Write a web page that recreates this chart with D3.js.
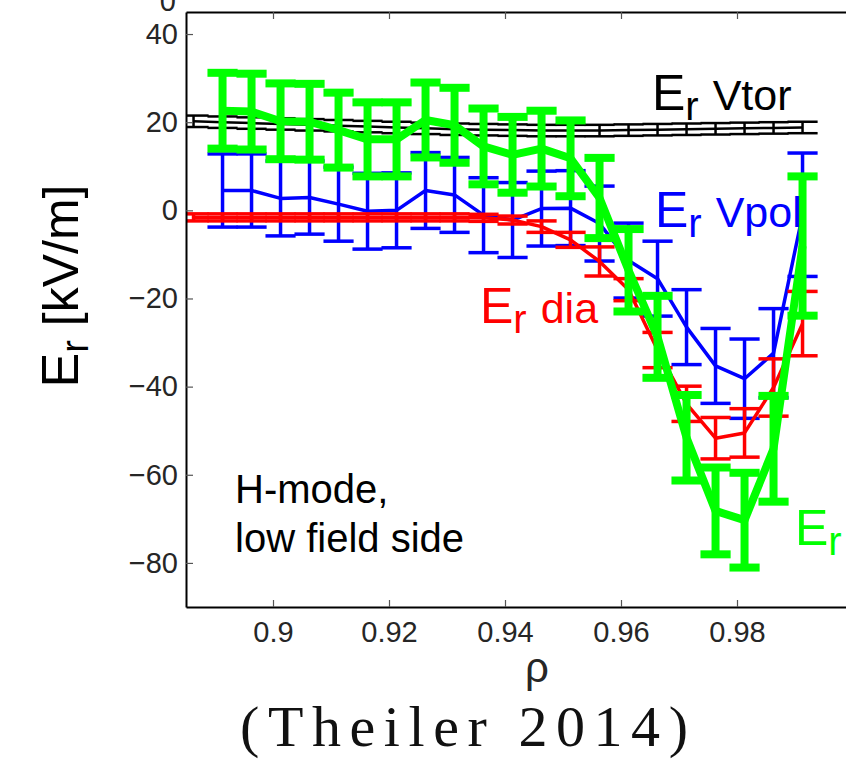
<!DOCTYPE html>
<html><head><meta charset="utf-8">
<script src="https://cdn.jsdelivr.net/npm/d3@7/dist/d3.min.js"></script>
<style>body{margin:0;background:#fff}svg{display:block}</style>
</head><body>
<svg id="c" width="846" height="770"></svg>
<script>
// ---- data ----
const rhoFine = [0.8863,0.8913,0.8963,0.9013,0.9063,0.9113,0.9163,0.9213,0.9263,0.9313,0.9363,0.9413,0.9463,0.9513,0.9563,0.9613,0.9663,0.9713,0.9763,0.9813,0.9863,0.9913];
const erVtor    = [20.2,20.0,19.8,19.6,19.4,19.2,19.0,18.8,18.6,18.4,18.3,18.2,18.1,18.1,18.1,18.2,18.3,18.4,18.5,18.6,18.7,18.8];
const erVtorErr = [1.3,1.3,1.3,1.3,1.3,1.3,1.3,1.3,1.3,1.3,1.3,1.3,1.3,1.3,1.3,1.3,1.3,1.3,1.3,1.3,1.3,1.3];
const erDia     = [-1.6,-1.6,-1.6,-1.6,-1.6,-1.6,-1.6,-1.6,-1.6,-1.6,-1.7,-2.2,-3.7,-6.7,-11.6,-18.0,-31.7,-43.9,-51.7,-50.5,-40.2,-25.7];
const erDiaErr  = [0.8,0.8,0.8,0.8,0.8,0.8,0.8,0.8,0.8,0.8,0.8,0.9,1.3,1.7,3.3,2.5,4.0,4.0,4.7,5.5,6.5,7.3];

const rhoMeas   = [0.8913,0.8963,0.9013,0.9063,0.9113,0.9163,0.9213,0.9263,0.9313,0.9363,0.9413,0.9463,0.9513,0.9563,0.9613,0.9663,0.9713,0.9763,0.9813,0.9863,0.9913];
const erVpol    = [4.5,4.5,2.7,2.9,1.4,-0.2,0.0,4.5,3.5,-1.1,-2.2,0.4,0.5,-3.0,-11.4,-15.5,-26.5,-35.3,-38.2,-32.4,-1.0];
const erVpolErr = [8.3,8.3,8.5,8.3,8.4,8.6,8.5,8.6,8.5,8.5,8.5,8.5,8.5,8.5,8.5,8.5,8.5,8.5,9.0,10.1,14.0];
const erTot     = [22.6,22.4,20.2,20.1,18.2,16.1,16.1,20.5,19.3,14.5,12.6,14.0,11.8,2.8,-13.6,-28.7,-51.6,-68.2,-70.3,-54.1,-8.1];
const erTotErr  = [8.6,8.6,8.6,8.6,8.5,8.4,8.4,8.5,8.5,8.6,8.6,8.6,8.6,9.1,9.35,9.3,9.7,9.85,10.75,12.0,15.8];

const xTicks = [0.9,0.92,0.94,0.96,0.98];
const yTicks = [40,20,0,-20,-40,-60,-80];

// ---- layout ----
const svg = d3.select("#c");
const L = 186, T = 12, B = 607, R = 853;
const x = d3.scaleLinear().domain([0.885, 1.0]).range([L, R]);
const y = d3.scaleLinear().domain([-90, 45]).range([B, T]);
const capHalf = 0.0026;
const sans = "'Liberation Sans', Arial, Helvetica, sans-serif";

svg.append("defs").append("clipPath").attr("id","clip")
  .append("rect").attr("x",L).attr("y",T).attr("width",R-L).attr("height",B-T);

const plot = svg.append("g").attr("clip-path","url(#clip)");

function series(xs, vs, es, color, lw, cw) {
  const g = plot.append("g");
  const line = d3.line().x((d,i)=>x(xs[i])).y(d=>y(d));
  vs.forEach((v,i)=>{
    const xc = x(xs[i]);
    g.append("line").attr("x1",xc).attr("x2",xc).attr("y1",y(v-es[i])).attr("y2",y(v+es[i]))
      .attr("stroke",color).attr("stroke-width",cw);
    [v-es[i], v+es[i]].forEach(c=>{
      g.append("line").attr("x1",x(xs[i]-capHalf)).attr("x2",x(xs[i]+capHalf))
        .attr("y1",y(c)).attr("y2",y(c)).attr("stroke",color).attr("stroke-width",cw);
    });
  });
  g.append("path").datum(vs).attr("d",line).attr("fill","none")
    .attr("stroke",color).attr("stroke-width",lw).attr("stroke-linejoin","round");
}

series(rhoFine, erVtor, erVtorErr, "#000000", 2.5, 2.5);
series(rhoMeas, erVpol, erVpolErr, "#0000ff", 3.5, 3.5);
series(rhoFine, erDia, erDiaErr, "#ff0000", 3.5, 3.5);
series(rhoMeas, erTot, erTotErr, "#00ff00", 8, 8);

// ---- axes ----
const axG = svg.append("g");
const yAxis = d3.axisLeft(y).tickValues(yTicks).tickSize(-7).tickSizeOuter(0).tickPadding(8);
const xAxis = d3.axisBottom(x).tickValues(xTicks).tickSize(-7).tickSizeOuter(0).tickPadding(14)
  .tickFormat(d3.format(".2~f"));
const gy = axG.append("g").attr("transform",`translate(${L},0)`).call(yAxis);
const gx = axG.append("g").attr("transform",`translate(0,${B})`).call(xAxis);
const gt = axG.append("g").attr("transform",`translate(0,${T})`)
  .call(d3.axisTop(x).tickValues(xTicks).tickSize(-7).tickSizeOuter(0).tickFormat(""));
[gx,gy,gt].forEach(g=>{
  g.select(".domain").attr("stroke","#000").attr("stroke-width",2);
  g.selectAll(".tick line").attr("stroke","#555").attr("stroke-width",1.2);
  g.selectAll(".tick text").attr("fill","#262626").style("font-family",sans).style("font-size","29px");
});
// label fragment clipped by the top edge, as in the reference
svg.append("text").attr("x",L-10).attr("y",T-1).attr("text-anchor","end")
  .style("font-family",sans).style("font-size","29px").attr("fill","#262626").text("0");

// ---- texts ----
function erLabel(xp, yp, color, suffix, fs) {
  const t = svg.append("text").attr("x",xp).attr("y",yp).attr("fill",color).style("font-family",sans);
  t.append("tspan").style("font-size","50px").text("E");
  t.append("tspan").style("font-size","40px").attr("dy",10).text("r");
  if (suffix) t.append("tspan").style("font-size",fs+"px").attr("dy",-10).attr("dx",14).text(suffix);
}
erLabel(652,110,"#000","Vtor",43);
erLabel(655,227,"#0000ff","Vpol",43);
erLabel(480,323,"#ff0000","dia",43);
erLabel(795,545,"#00ff00",null,43);

svg.append("text").attr("x",235).attr("y",503).style("font-family",sans).style("font-size","40px").text("H-mode,");
svg.append("text").attr("x",235).attr("y",552).style("font-family",sans).style("font-size","40px").text("low field side");

// y label
const yl = svg.append("text").attr("transform","translate(78,286) rotate(-90)").attr("text-anchor","middle")
  .style("font-family",sans).attr("fill","#000");
yl.append("tspan").style("font-size","52px").text("E");
yl.append("tspan").style("font-size","38px").attr("dy",10).text("r");
yl.append("tspan").style("font-size","50px").attr("dy",-10).text(" [kV/m]");

svg.append("text").attr("x",537).attr("y",682).attr("text-anchor","middle")
  .style("font-family",sans).style("font-size","42px").attr("fill","#262626").text("ρ");
svg.append("text").attr("x",240).attr("y",746).attr("textLength",448).attr("lengthAdjust","spacing")
  .style("font-family","'Liberation Serif', 'DejaVu Serif', serif").style("font-size","58px").attr("fill","#111")
  .text("(Theiler 2014)");
</script>
</body></html>
